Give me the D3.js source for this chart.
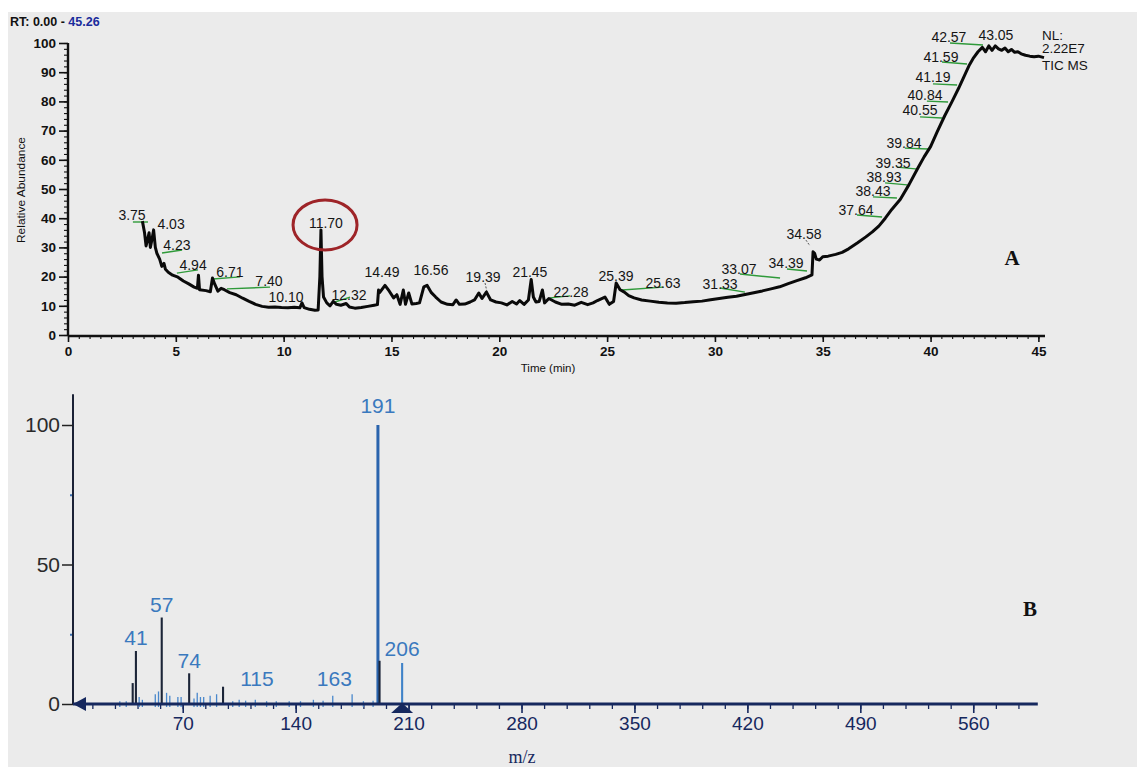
<!DOCTYPE html>
<html>
<head>
<meta charset="utf-8">
<script src="https://cdn.jsdelivr.net/npm/d3@7"></script>
<style>
  body { margin: 0; background: #fff; }
  svg { display: block; }
</style>
</head>
<body>
<div id="chart"></div>
<script>
// --- Panel A: TIC chromatogram (retention time in min, relative abundance %)
const ticTime = [
  3.45, 3.55, 3.62, 3.70, 3.76, 3.82, 3.90, 3.97, 4.05, 4.12, 4.25, 4.35, 4.45, 4.52, 4.65, 4.85,
  5.10, 5.35, 5.60, 5.85, 6.00, 6.05, 6.10, 6.40, 6.60, 6.70, 6.80, 6.95, 7.10, 7.25, 7.50, 7.80,
  8.10, 8.40, 8.70, 9.00, 9.30, 9.60, 9.90, 10.20, 10.50, 10.75, 10.85, 10.95, 11.20, 11.45, 11.60,
  11.68, 11.73, 11.78, 11.85, 12.00, 12.15, 12.30, 12.45, 12.65, 12.90, 13.05, 13.30, 13.60, 13.90,
  14.20, 14.35, 14.40, 14.45, 14.70, 14.90, 15.10, 15.25, 15.40, 15.55, 15.65, 15.80, 15.95, 16.15,
  16.30, 16.50, 16.65, 16.85, 17.05, 17.30, 17.60, 17.85, 18.00, 18.15, 18.40, 18.65, 18.85, 19.05,
  19.20, 19.40, 19.60, 19.85, 20.10, 20.35, 20.60, 20.80, 20.95, 21.15, 21.35, 21.48, 21.58, 21.70,
  21.85, 22.00, 22.10, 22.30, 22.60, 22.90, 23.20, 23.50, 23.80, 24.10, 24.35, 24.55, 24.90, 25.10,
  25.30, 25.42, 25.60, 25.80, 26.00, 26.25, 26.60, 27.00, 27.40, 27.80, 28.20, 28.60, 29.00, 29.40,
  29.80, 30.20, 30.60, 31.00, 31.40, 31.80, 32.20, 32.60, 33.00, 33.40, 33.80, 34.20, 34.50, 34.55,
  34.62, 34.70, 34.85, 35.00, 35.25, 35.60, 35.90, 36.20, 36.60, 37.00, 37.30, 37.60, 37.90, 38.20,
  38.60, 39.00, 39.40, 39.70, 40.00, 40.30, 40.65, 41.00, 41.30, 41.55, 41.80, 42.00, 42.20, 42.40,
  42.55, 42.70, 42.85, 43.00, 43.15, 43.30, 43.45, 43.60, 43.75, 43.90, 44.05, 44.20, 44.40, 44.60,
  44.80, 45.00, 45.26
];
const ticAbund = [
  39, 35, 30.5, 33, 35, 30, 33, 36, 30, 28, 26, 23.5, 24.5, 22.5, 21.5, 20.5,
  19.8, 18.5, 17.5, 16.4, 16, 20.5, 15.5, 15.2, 14.8, 19.5, 17.5, 15, 16, 15.5, 14.5, 13.8,
  12.6, 11.5, 10.5, 9.8, 9.5, 9.6, 9.4, 9.3, 9.5, 9.3, 11, 9.4, 8.8, 8.5, 8.6,
  20, 36, 20, 13, 11, 10, 11.5, 10.5, 10.2, 10.8, 9.6, 9.2, 9.4, 9.8,
  10.2, 10.4, 15.4, 14.5, 17, 15, 12.7, 13.8, 10.5, 15.4, 10.5, 14.4, 10.6, 10.8,
  11, 16.5, 17, 14.5, 13, 11.3, 10.5, 10.4, 12, 10.5, 10.6, 11.3, 12, 14.4,
  12.5, 14.7, 12, 11.3, 11, 10.3, 11.5, 10.6, 11.8, 10.5, 12, 19, 13, 11.3,
  11.5, 15.4, 11, 12.5, 11.3, 10.5, 10.6, 10.2, 11.2, 10.4, 11, 11.8, 13, 10.5,
  11.5, 17.8, 15.5, 14.7, 13.5, 12.7, 12, 11.6, 11.2, 11, 10.9, 11.1, 11.4, 11.6,
  12.1, 12.5, 12.9, 13.3, 13.9, 14.5, 15.1, 15.8, 16.5, 17.6, 18.6, 19.6, 20.6, 28.5,
  28, 26, 25.7, 26.8, 27, 27.6, 28.3, 29.5, 31.5, 33.6, 35.3, 37.3, 40, 43,
  46.5, 51.5, 57, 61, 64.5, 69.5, 75, 80, 84.5, 88.5, 92.5, 95, 97, 98.5,
  97, 99, 97.5, 99, 98, 97.5, 98.3, 97, 97.8, 96.8, 97, 96.3, 95.8, 95.5,
  95.3, 95.5, 95
];
const timeTicks = [0, 5, 10, 15, 20, 25, 30, 35, 40, 45];
const abundTicks = [0, 10, 20, 30, 40, 50, 60, 70, 80, 90, 100];

// peak labels: [text, label time, label abundance]
const rtLabels = [
  ['3.75', 2.97, 39.4], ['4.03', 4.78, 36.3], ['4.23', 5.05, 29.1], ['4.94', 5.80, 22.3],
  ['6.71', 7.51, 19.9], ['7.40', 9.32, 16.8], ['10.10', 10.11, 11.3], ['11.70', 11.96, 36.6],
  ['12.32', 13.03, 12.0], ['14.49', 14.56, 19.9], ['16.56', 16.83, 20.5], ['19.39', 19.25, 18.2],
  ['21.45', 21.42, 19.9], ['22.28', 23.33, 13.0], ['25.39', 25.41, 18.5], ['25.63', 27.59, 16.1],
  ['31.33', 30.24, 15.8], ['33.07', 31.12, 20.9], ['34.39', 33.30, 22.9], ['34.58', 34.13, 32.9],
  ['37.64', 36.54, 41.1], ['38.43', 37.33, 47.6], ['38.93', 37.84, 52.4], ['39.35', 38.26, 57.2],
  ['39.84', 38.77, 64.0], ['40.55', 39.51, 75.3], ['40.84', 39.74, 80.5], ['41.19', 40.11, 86.6],
  ['41.59', 40.48, 93.5], ['42.57', 40.85, 100.3], ['43.05', 43.03, 101]
];
// green leader lines: [t1, a1, t2, a2]
const greenLeaders = [
  [3.01, 38.7, 3.71, 38.7], [4.36, 28.1, 5.29, 29.1], [5.05, 21.2, 6.03, 22.3],
  [6.72, 19.2, 7.98, 19.9], [7.37, 15.8, 9.37, 16.4], [12.38, 11.3, 13.08, 13.0],
  [22.35, 12.7, 23.28, 13.4], [25.69, 15.4, 27.59, 16.4], [30.24, 16.1, 31.39, 14.7],
  [31.16, 20.9, 33.02, 19.5], [33.34, 22.6, 34.27, 21.9], [36.59, 41.1, 37.75, 40.4],
  [37.33, 47.3, 38.44, 46.9], [37.89, 52.1, 38.91, 51.4], [38.44, 57.5, 39.42, 56.8],
  [38.81, 64.0, 39.88, 63.7], [39.51, 74.7, 40.53, 74.3], [39.83, 80.1, 40.81, 79.8],
  [40.11, 86.0, 41.23, 85.6], [40.53, 93.5, 41.69, 92.8], [40.90, 100, 42.43, 99.3]
];
// grey leaders
const greyLeaders = [[19.34, 17.8, 19.43, 14.7], [34.22, 32.5, 34.41, 30.5]];
const circledPeak = [11.92, 37.7];

// --- Panel B: mass spectrum (m/z, relative intensity %)
const specMz = [31, 35, 39, 41, 43, 45, 53, 55, 57, 60, 62, 67, 69, 74, 77, 79, 81, 83, 87, 91, 95,
  101, 105, 109, 115, 122, 128, 136, 143, 151, 157, 163, 175, 182, 188, 191, 192, 206];
const specInt = [1, 1, 7.5, 19, 2.5, 1.5, 3.5, 4.5, 31, 4, 3, 2.5, 2.5, 11, 2, 4, 2.5, 2.5, 3, 3.5, 6.2,
  1, 1.5, 1.2, 1.5, 1, 1, 1, 1, 1.5, 1.2, 3, 3.5, 1, 1.2, 100, 15.5, 14.7];
const specLabels = [['41', 41, 21.1], ['57', 57, 33], ['74', 74, 12.9], ['115', 116, 6.5],
  ['163', 164, 6.5], ['191', 191, 104.3], ['206', 206, 17.2]];
const mzTicks = [70, 140, 210, 280, 350, 420, 490, 560];
const intTicks = [0, 50, 100];

const W = 1137, H = 767;
const svg = d3.select('#chart').append('svg').attr('width', W).attr('height', H);
svg.append('rect').attr('width', W).attr('height', H).attr('fill', '#fff');
svg.append('rect').attr('x', 8).attr('y', 12).attr('width', W - 8).attr('height', H - 12).attr('fill', '#ebebeb');

const sans = 'Liberation Sans, Arial, sans-serif';
const serif = 'Liberation Serif, Times New Roman, serif';

// ===== Panel A =====
const xA = d3.scaleLinear().domain([0, 45.26]).range([68, 1044]);
const yA = d3.scaleLinear().domain([0, 100]).range([335, 43]);

const gA = svg.append('g');

gA.append('text').attr('x', 10).attr('y', 26)
  .attr('font-family', sans).attr('font-size', 12.5).attr('font-weight', 'bold')
  .call(t => {
    t.append('tspan').attr('fill', '#111').text('RT: 0.00 - ');
    t.append('tspan').attr('fill', '#1a2c9c').text('45.26');
  });

// minor ticks
gA.append('g').attr('transform', 'translate(0,336)')
  .call(d3.axisBottom(xA).tickValues(d3.range(0, 45.3, 0.5)).tickSize(3).tickFormat(''))
  .call(g => g.select('.domain').remove())
  .call(g => g.selectAll('line').attr('stroke', '#111').attr('stroke-width', 1.1));
gA.append('g').attr('transform', 'translate(68,0)')
  .call(d3.axisLeft(yA).tickValues(d3.range(0, 101, 2)).tickSize(4).tickFormat(''))
  .call(g => g.select('.domain').remove())
  .call(g => g.selectAll('line').attr('stroke', '#111').attr('stroke-width', 1.1));

const axA = gA.append('g').attr('transform', 'translate(0,336)')
  .call(d3.axisBottom(xA).tickValues(timeTicks).tickSize(6).tickSizeOuter(0).tickPadding(4));
axA.select('.domain').attr('d', `M68,0H1045`).attr('stroke', '#111').attr('stroke-width', 2.4);
axA.selectAll('line').attr('stroke', '#111').attr('stroke-width', 1.6);
axA.selectAll('text').attr('font-family', sans).attr('font-size', 13.5).attr('font-weight', 'bold').attr('fill', '#111');

const ayA = gA.append('g').attr('transform', 'translate(68,0)')
  .call(d3.axisLeft(yA).tickValues(abundTicks).tickSize(9).tickSizeOuter(0).tickPadding(3));
ayA.select('.domain').attr('d', `M0,43V336`).attr('stroke', '#111').attr('stroke-width', 2.4);
ayA.selectAll('line').attr('stroke', '#111').attr('stroke-width', 1.6);
ayA.selectAll('text').attr('font-family', sans).attr('font-size', 13.5).attr('font-weight', 'bold').attr('fill', '#111');

gA.append('text').attr('transform', 'translate(25,190) rotate(-90)')
  .attr('text-anchor', 'middle').attr('font-family', sans).attr('font-size', 11)
  .attr('textLength', 106).attr('lengthAdjust', 'spacingAndGlyphs')
  .attr('fill', '#111').text('Relative Abundance');
gA.append('text').attr('x', 548).attr('y', 372).attr('text-anchor', 'middle')
  .attr('font-family', sans).attr('font-size', 11.5).attr('fill', '#111').text('Time (min)');

// leaders
gA.selectAll('.gl').data(greenLeaders).join('line')
  .attr('x1', d => xA(d[0])).attr('y1', d => yA(d[1]))
  .attr('x2', d => xA(d[2])).attr('y2', d => yA(d[3]))
  .attr('stroke', '#2f9a3a').attr('stroke-width', 1.4);
gA.selectAll('.gr').data(greyLeaders).join('line')
  .attr('x1', d => xA(d[0])).attr('y1', d => yA(d[1]))
  .attr('x2', d => xA(d[2])).attr('y2', d => yA(d[3]))
  .attr('stroke', '#555').attr('stroke-width', 1).attr('stroke-dasharray', '2,1.5');

// trace
const ticData = ticTime.map((t, i) => [t, ticAbund[i]]);
gA.append('path').datum(ticData)
  .attr('d', d3.line().x(d => xA(d[0])).y(d => yA(d[1])))
  .attr('fill', 'none').attr('stroke', '#0a0a0a').attr('stroke-width', 3)
  .attr('stroke-linejoin', 'round');

gA.selectAll('.rl').data(rtLabels).join('text')
  .attr('x', d => xA(d[1])).attr('y', d => yA(d[2]))
  .attr('text-anchor', 'middle').attr('font-family', sans).attr('font-size', 14)
  .attr('fill', '#151515').text(d => d[0]);

gA.append('ellipse').attr('cx', xA(circledPeak[0])).attr('cy', yA(circledPeak[1]))
  .attr('rx', 32).attr('ry', 25).attr('fill', 'none')
  .attr('stroke', '#9e2428').attr('stroke-width', 3);

gA.append('g').attr('font-family', sans).attr('font-size', 13.5).attr('fill', '#151515')
  .selectAll('text').data([['NL:', 40], ['2.22E7', 53], ['TIC MS', 70]]).join('text')
  .attr('x', 1042).attr('y', d => d[1]).text(d => d[0]);

gA.append('text').attr('x', 1012).attr('y', 265).attr('text-anchor', 'middle')
  .attr('font-family', serif).attr('font-weight', 'bold').attr('font-size', 21)
  .attr('fill', '#111').text('A');

// ===== Panel B =====
const xB = d3.scaleLinear().domain([2, 600]).range([73, 1037.8]);
const yB = d3.scaleLinear().domain([0, 100]).range([704, 425]);
const navy = '#16285e';
const gB = svg.append('g');

// minor x ticks
gB.append('g').attr('transform', 'translate(0,704)')
  .call(d3.axisBottom(xB).tickValues(d3.range(14, 590, 14)).tickSize(5).tickFormat(''))
  .call(g => g.select('.domain').remove())
  .call(g => g.selectAll('line').attr('stroke', navy).attr('stroke-width', 1.3));

const axB = gB.append('g').attr('transform', 'translate(0,704)')
  .call(d3.axisBottom(xB).tickValues(mzTicks).tickSize(9).tickSizeOuter(0).tickPadding(4));
axB.select('.domain').remove();
axB.selectAll('line').attr('stroke', navy).attr('stroke-width', 1.6);
axB.selectAll('text').attr('font-family', sans).attr('font-size', 19).attr('fill', navy);

// y axis
gB.append('g').attr('transform', 'translate(73,0)')
  .call(d3.axisLeft(yB).tickValues([25, 75]).tickSize(3).tickFormat(''))
  .call(g => g.select('.domain').remove())
  .call(g => g.selectAll('line').attr('stroke', '#3b6fb0').attr('stroke-width', 2));
const ayB = gB.append('g').attr('transform', 'translate(73,0)')
  .call(d3.axisLeft(yB).tickValues(intTicks).tickSize(11).tickSizeOuter(0).tickPadding(2));
ayB.select('.domain').attr('d', `M0,${yB(111)}V${yB(0)}`).attr('stroke', '#1b2236').attr('stroke-width', 2);
ayB.selectAll('line').attr('stroke', '#222').attr('stroke-width', 1.5);
ayB.selectAll('text').attr('font-family', sans).attr('font-size', 21).attr('fill', '#2a2a2a');

// peaks
const specData = specMz.map((m, i) => [m, specInt[i]]);
gB.selectAll('.pk').data(specData).join('line')
  .attr('x1', d => xB(d[0])).attr('x2', d => xB(d[0]))
  .attr('y1', d => yB(0) + (d[1] < 5 ? 3 : 0)).attr('y2', d => yB(d[1]))
  .attr('stroke', d => d[0] === 191 ? '#2a64ad' : d[0] === 206 ? '#3f82c8' : d[1] >= 5 ? '#1c2538' : '#4a88cc')
  .attr('stroke-width', d => d[0] === 191 ? 3 : d[1] >= 5 ? 2.1 : 1.3);

// baseline + markers
gB.append('line').attr('x1', xB(2)).attr('x2', xB(600)).attr('y1', yB(0)).attr('y2', yB(0))
  .attr('stroke', navy).attr('stroke-width', 3);
gB.append('path')
  .attr('d', `M${xB(2)},${yB(0)}l13,-7v14z`).attr('fill', navy);
gB.append('path')
  .attr('d', `M${xB(206)},${yB(0) - 1}l11,10h-22z`).attr('fill', navy);

gB.selectAll('.sl').data(specLabels).join('text')
  .attr('x', d => xB(d[1])).attr('y', d => yB(d[2]))
  .attr('text-anchor', 'middle').attr('font-family', sans).attr('font-size', 21)
  .attr('fill', '#3a79be').text(d => d[0]);

gB.append('text').attr('x', 522).attr('y', 763).attr('text-anchor', 'middle')
  .attr('font-family', serif).attr('font-size', 18).attr('fill', navy).text('m/z');

gB.append('text').attr('x', 1030).attr('y', 616).attr('text-anchor', 'middle')
  .attr('font-family', serif).attr('font-weight', 'bold').attr('font-size', 21)
  .attr('fill', '#111').text('B');
</script>
</body>
</html>
